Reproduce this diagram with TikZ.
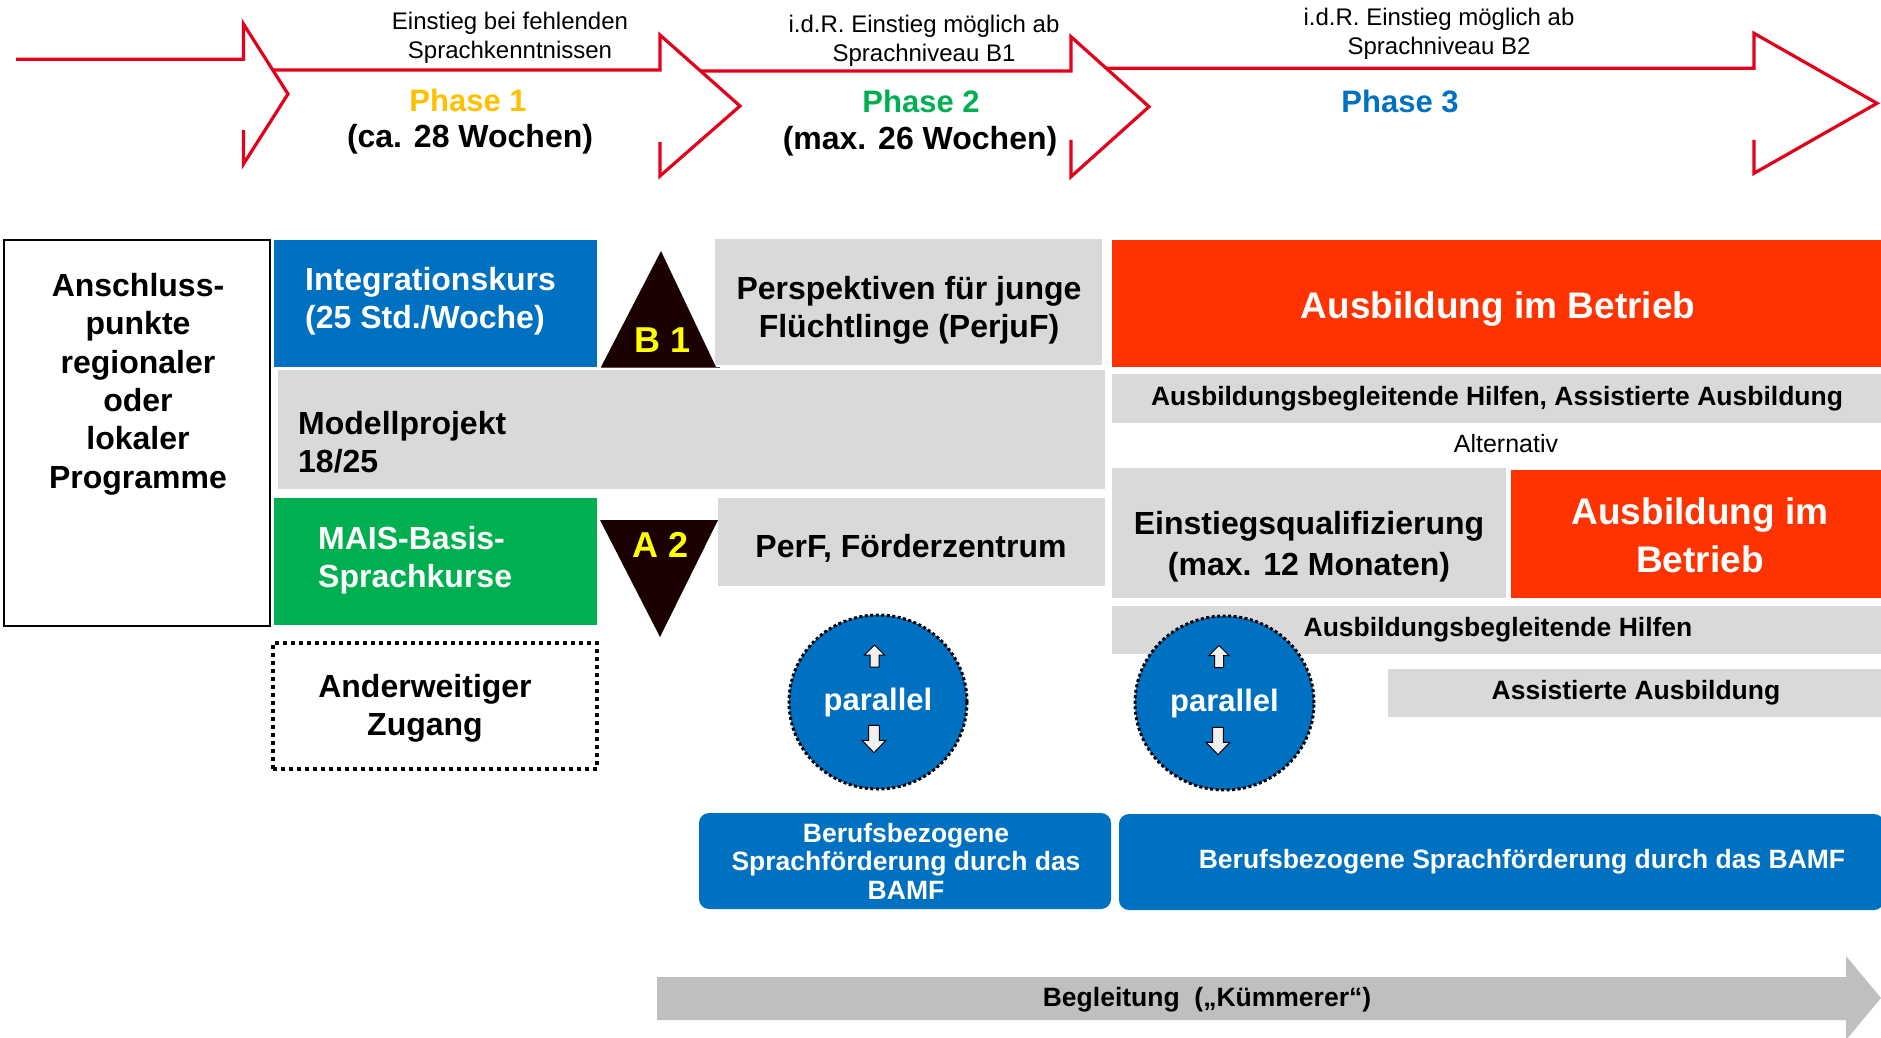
\documentclass[tikz,border=0pt]{standalone}
\usepackage{fontspec}
\setmainfont{Liberation Sans}
\usetikzlibrary{shapes.geometric}
\definecolor{arrred}{HTML}{E3001B}
\definecolor{myblue}{HTML}{0070C0}
\definecolor{mygreen}{HTML}{00B050}
\definecolor{myorange}{HTML}{FF3300}
\definecolor{mygray}{HTML}{D9D9D9}
\definecolor{arrgray}{HTML}{BFBFBF}
\definecolor{phaseyellow}{HTML}{FFC000}
\definecolor{triyellow}{HTML}{FFFF00}
\definecolor{tricol}{HTML}{1A0000}
\newcommand\fsz[2]{\fontsize{#1}{#2}\selectfont}
\begin{document}
\begin{tikzpicture}[x=1pt,y=-1pt,
  box/.style={anchor=north west, inner sep=0pt, outer sep=0pt},
  txt/.style={inner sep=0pt, align=center},
  bigtxt/.style={txt, font=\bfseries\fsz{32}{38.4}},
  midtxt/.style={txt, font=\bfseries\fsz{26.5}{28.5}},
  smalltxt/.style={txt, font=\fsz{24}{29}},
  redtxt/.style={txt, font=\bfseries\fsz{37}{48}, text=white},
  redline/.style={draw=arrred, line width=3.2pt, line join=miter},
  parcircle/.style={ellipse, fill=myblue, draw=black, line width=3pt,
     dash pattern=on 3pt off 2.5pt, inner sep=0pt, text=white,
     font=\bfseries\fsz{31}{36}},
  updn/.pic={\draw[fill=white!88!gray, line width=1pt, line join=miter]
     (0,-11) -- (10,-1) -- (4.5,-1) -- (4.5,11) -- (-4.5,11) -- (-4.5,-1) -- (-10,-1) -- cycle;}
]
\useasboundingbox (0,0) rectangle (1881,1038);

% ---------- top red phase arrows ----------
\draw[redline] (16,59.3) -- (243.5,59.3) -- (243.5,24) -- (288,94) -- (243.5,164) -- (243.5,130);
\draw[redline] (273,70) -- (660,70) -- (660,35) -- (740,106) -- (660,176) -- (660,142);
\draw[redline] (701,71) -- (1071,71) -- (1071,36.7) -- (1149,106.7) -- (1071,176.7) -- (1071,140);
\draw[redline] (1106,68.3) -- (1754,68.3) -- (1754,33.3) -- (1877,103.3) -- (1754,173.3) -- (1754,140);

\node[smalltxt] (t1) at (510,38) {Einstieg bei fehlenden\\Sprachkenntnissen};
\node[smalltxt] (t2) at (924,40.5) {i.d.R. Einstieg möglich ab\\Sprachniveau B1};
\node[smalltxt] (t3) at (1439,33.5) {i.d.R. Einstieg möglich ab\\Sprachniveau B2};

\node[txt, font=\bfseries\fsz{31}{36}, text=phaseyellow] (p1) at (468,100) {Phase 1};
\node[txt, font=\bfseries\fsz{32}{38}] (w1) at (470,139) {(ca. 28 Wochen)};
\node[txt, font=\bfseries\fsz{31}{36}, text=mygreen] (p2) at (921,101) {Phase 2};
\node[txt, font=\bfseries\fsz{32}{38}] (w2) at (920,141) {(max. 26 Wochen)};
\node[txt, font=\bfseries\fsz{31}{36}, text=myblue] (p3) at (1400,101) {Phase 3};

% ---------- left column ----------
\node[box, draw=black, line width=1.6pt, fill=white, minimum width=266pt, minimum height=386pt] (anschl) at (4,240) {};
\node[bigtxt] (anschlT) at (138,384) {Anschluss-\\punkte\\regionaler\\oder\\lokaler\\Programme};

\node[box, fill=myblue, minimum width=323pt, minimum height=127pt] (integ) at (274,240) {};
\node[bigtxt, align=left, anchor=west, text=white] (integT) at (305,301) {Integrationskurs\\(25 Std./Woche)};

\node[box, fill=mygray, minimum width=827pt, minimum height=119pt] (modell) at (278,370) {};
\node[bigtxt, align=left, anchor=west] (modellT) at (298,442) {Modellprojekt\\18/25};

\node[box, fill=mygreen, minimum width=323pt, minimum height=127pt] (mais) at (274,498) {};
\node[bigtxt, align=left, anchor=west, text=white] (maisT) at (318,560) {MAIS-Basis-\\Sprachkurse};

\node[box, draw=black, line width=4pt, dash pattern=on 4pt off 4pt, minimum width=324pt, minimum height=126pt] (ander) at (273,643) {};
\node[bigtxt] (anderT) at (425,708) {Anderweitiger\\Zugang};

% ---------- triangles ----------
\fill[tricol] (601,367) -- (661,251) -- (716,367) -- cycle;
\draw[tricol!70, line width=1pt] (601,367.5) -- (720,367.5);
\node[txt, font=\bfseries\fsz{36}{40}, text=triyellow] (b1t) at (663,340) {B 1};
\fill[tricol] (600,520) -- (718,520) -- (660,637) -- cycle;
\node[txt, font=\bfseries\fsz{36}{40}, text=triyellow] (a2t) at (661,545) {A 2};

% ---------- phase 2 boxes ----------
\node[box, fill=mygray, minimum width=387pt, minimum height=126pt] (persp) at (715,239) {};
\node[bigtxt] (perspT) at (909,310) {Perspektiven für junge\\Flüchtlinge (PerjuF)};
\node[box, fill=mygray, minimum width=387pt, minimum height=88pt] (perf) at (718,498) {};
\node[bigtxt] (perfT) at (911,548) {PerF, Förderzentrum};

% ---------- phase 3 boxes ----------
\node[box, fill=myorange, minimum width=769pt, minimum height=127pt] (ausb1) at (1112,240) {};
\node[redtxt] (ausb1T) at (1498,309) {Ausbildung im Betrieb};
\node[box, fill=mygray, minimum width=769pt, minimum height=49pt] (abh1) at (1112,374) {};
\node[midtxt] (abh1T) at (1497,399) {Ausbildungsbegleitende Hilfen, Assistierte Ausbildung};
\node[txt, font=\fsz{25}{29}] (alt) at (1506,444) {Alternativ};
\node[box, fill=mygray, minimum width=394pt, minimum height=130pt] (eq) at (1112,468) {};
\node[txt, font=\bfseries\fsz{32}{41}] (eqT) at (1309,547) {Einstiegsqualifizierung\\(max. 12 Monaten)};
\node[box, fill=myorange, minimum width=370pt, minimum height=128pt] (ausb2) at (1511,470) {};
\node[redtxt] (ausb2T) at (1700,535) {Ausbildung im\\Betrieb};
\node[box, fill=mygray, minimum width=769pt, minimum height=48pt] (abh2) at (1112,606) {};
\node[midtxt] (abh2T) at (1498,630) {Ausbildungsbegleitende Hilfen};
\node[box, fill=mygray, minimum width=494pt, minimum height=48pt] (assist) at (1388,669) {};
\node[midtxt] (assistT) at (1636,693) {Assistierte Ausbildung};

% ---------- parallel circles ----------
\node[parcircle, minimum width=178pt, minimum height=174pt] (par1) at (878,702) {parallel};
\pic at (874.5,656) {updn};
\pic[yscale=-1.25, xscale=1.2] at (874,739) {updn};
\node[parcircle, minimum width=179pt, minimum height=174pt] (par2) at (1224.5,703) {parallel};
\pic at (1219,656.5) {updn};
\pic[yscale=-1.25, xscale=1.2] at (1218,741) {updn};

% ---------- BAMF boxes ----------
\node[box, fill=myblue, rounded corners=10pt, minimum width=412pt, minimum height=96pt] (bamf1) at (699,813) {};
\node[midtxt, text=white] (bamf1T) at (906,861) {Berufsbezogene\\Sprachförderung durch das\\BAMF};
\node[box, fill=myblue, rounded corners=10pt, minimum width=765pt, minimum height=96pt] (bamf2) at (1119,814) {};
\node[midtxt, text=white] (bamf2T) at (1522,862) {Berufsbezogene Sprachförderung durch das BAMF};

% ---------- Begleitung arrow ----------
\fill[arrgray] (657,977) -- (1846,977) -- (1846,956) -- (1881,998) -- (1846,1040) -- (1846,1020) -- (657,1020) -- cycle;
\node[midtxt] (begl) at (1207,1000) {Begleitung\ \ („Kümmerer“)};
\end{tikzpicture}
\end{document}
